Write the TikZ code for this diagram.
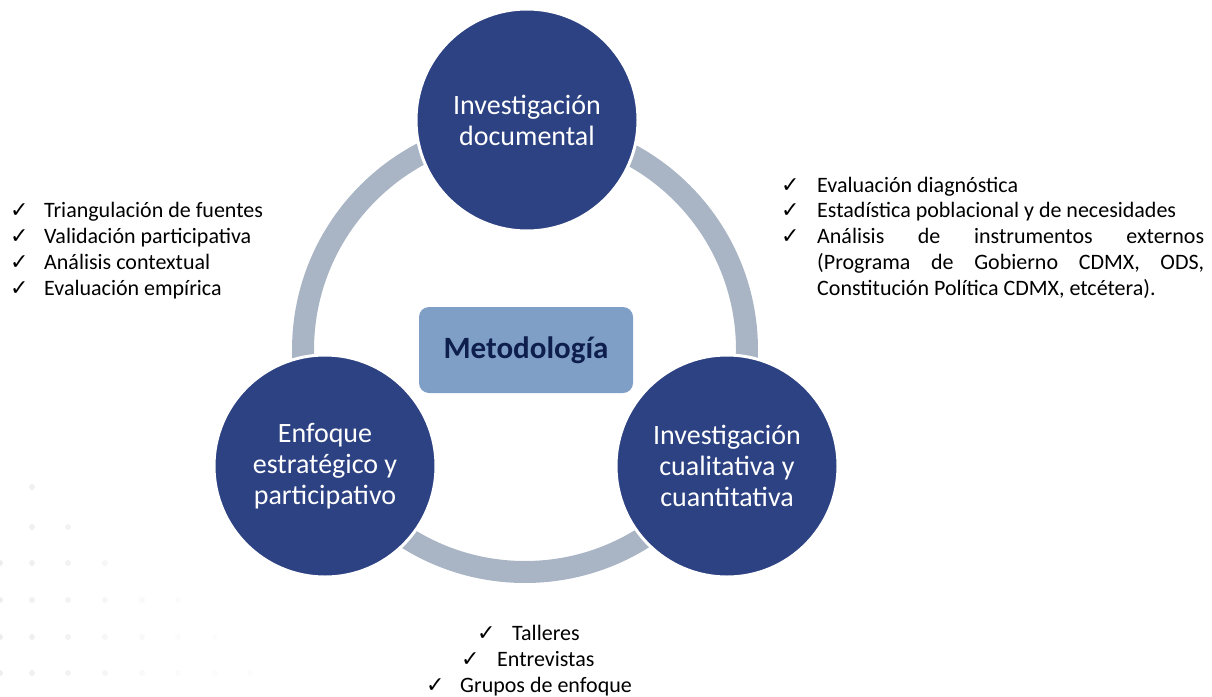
\documentclass[tikz,border=0pt]{standalone}
\usepackage{fontspec}
\setmainfont{Carlito}
\newfontfamily\chkfont{DejaVu Sans}
\definecolor{navy}{HTML}{2D4283}
\definecolor{ringgray}{HTML}{A9B5C4}
\definecolor{boxblue}{HTML}{7F9FC6}
\definecolor{darknavy}{HTML}{0E1F4D}
\definecolor{dotgray}{HTML}{E6E6E6}
\newcommand\chkitem[2][33pt]{\makebox[#1][l]{\chkfont\fontsize{22}{22}\selectfont ✓}#2}
\tikzset{
  bigcirc/.style={circle, fill=navy, draw=white, line width=3pt, minimum size=222pt, inner sep=0pt,
    text=white, align=center, font=\fontsize{28}{31}\selectfont},
  metobox/.style={rectangle, rounded corners=10pt, fill=boxblue, minimum width=214pt, minimum height=86pt,
    inner sep=0pt, text=darknavy, font=\bfseries\fontsize{31}{36}\selectfont},
  listtext/.style={inner sep=0pt, anchor=base west, font=\fontsize{22}{26}\selectfont, text=black},
  bgdot/.style={circle, fill=dotgray, inner sep=0pt, minimum size=6pt}
}
\begin{document}
\begin{tikzpicture}[x=1pt,y=-1pt]
\useasboundingbox (0,0) rectangle (1212,696);
% faint background dots
\foreach \yy/\xs in {487/{32}, 527/{32,68}, 563/{0,32,68,105}, 600/{0,32,68,105,142,178},
  637/{0,32,68,105,142,178,215}, 673/{0,32,68,105,142,178,215,250}} {
  \foreach \xx in \xs {
    \pgfmathsetmacro\op{max(0.1,0.7-\xx/320)}
    \node[bgdot, opacity=\op] at (\xx,\yy) {};
  }
}
% ring
\draw[ringgray, line width=22pt] (525,350) circle[radius=222];
% circles
\node[bigcirc] (top) at (527,120) {Investigación\\documental};
\node[bigcirc] (left) at (325,466) {Enfoque\\estratégico y\\participativo};
\node[bigcirc] (right) at (727,466) {Investigación\\cualitativa y\\cuantitativa};
% center box
\node[metobox] (meto) at (526,350) {Metodología};
% left list
\node[listtext] (l1) at (10,217) {\chkitem[34pt]{Triangulación de fuentes}};
\node[listtext] (l2) at (10,243) {\chkitem[34pt]{Validación participativa}};
\node[listtext] (l3) at (10,269) {\chkitem[34pt]{Análisis contextual}};
\node[listtext] (l4) at (10,295) {\chkitem[34pt]{Evaluación empírica}};
% right list
\node[listtext] (r1) at (781,192) {\chkitem[36pt]{Evaluación diagnóstica}};
\node[listtext] (r2) at (781,217) {\chkitem[36pt]{Estadística poblacional y de necesidades}};
\node[listtext] (r3) at (781,243) {\chkitem[36pt]{\hbox to 387pt{Análisis\hfill de\hfill instrumentos\hfill externos}}};
\node[listtext] (r4) at (817,269) {\hbox to 387pt{(Programa\hfill de\hfill Gobierno\hfill CDMX,\hfill ODS,}};
\node[listtext] (r5) at (817,295) {Constitución Política CDMX, etcétera).};
% bottom list
\node[listtext] (b1) at (477,640) {\chkitem[35pt]{Talleres}};
\node[listtext] (b2) at (461,666) {\chkitem[36pt]{Entrevistas}};
\node[listtext] (b3) at (426,692) {\chkitem[34pt]{Grupos de enfoque}};
\end{tikzpicture}
\end{document}
